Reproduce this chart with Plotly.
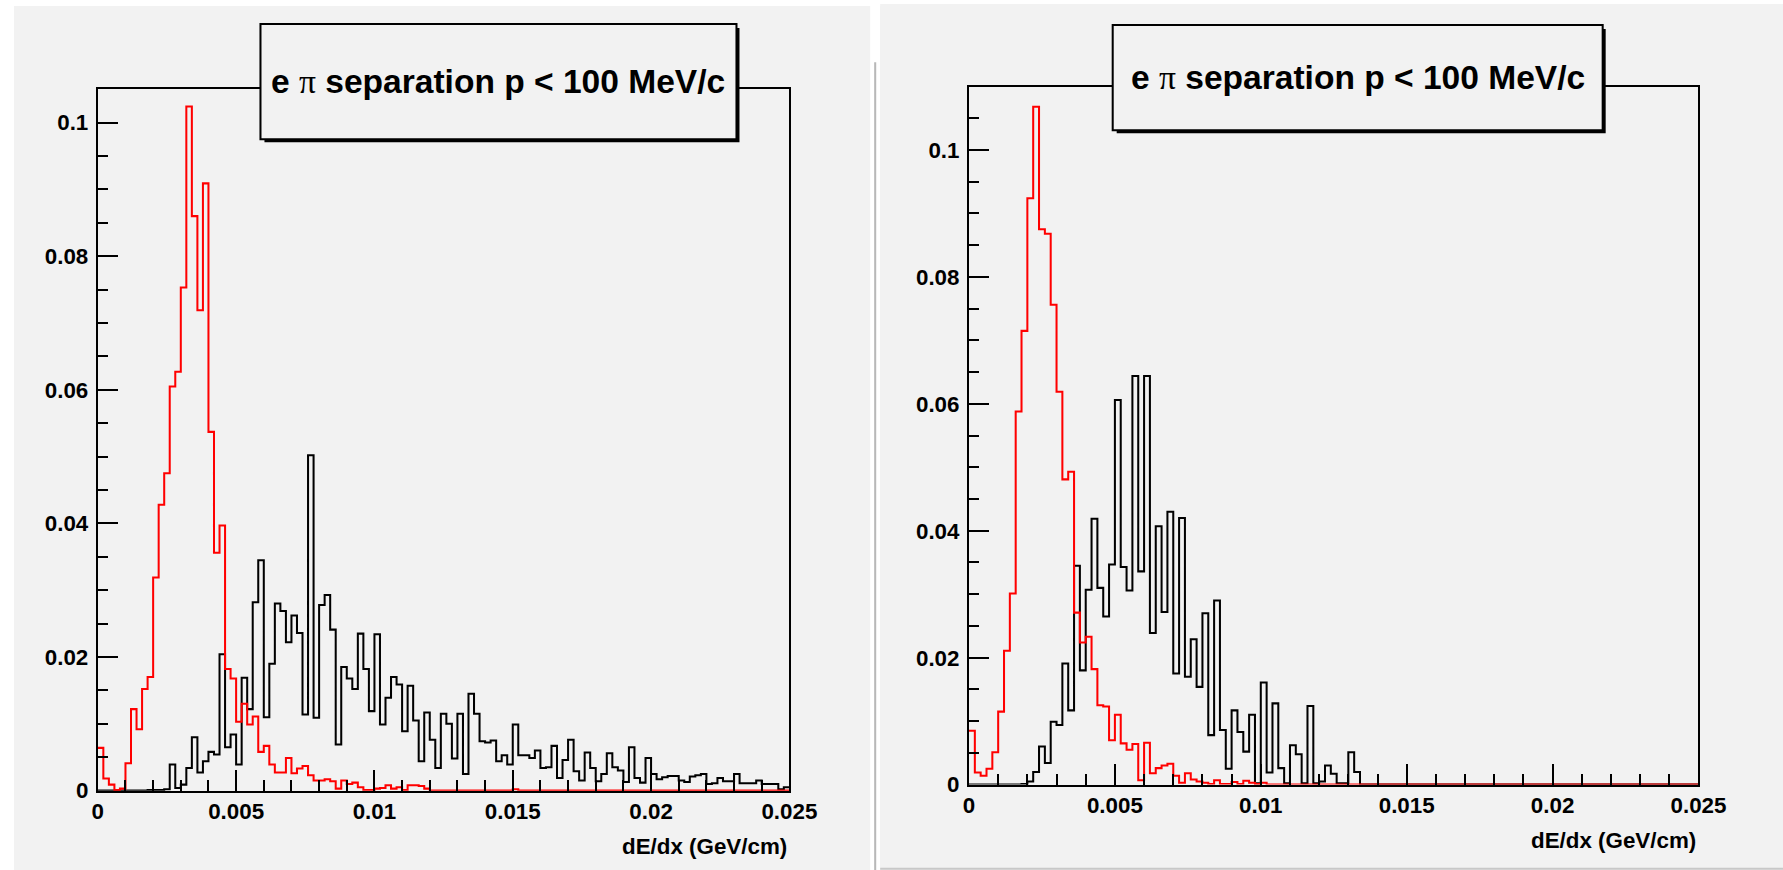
import numpy as np
import plotly.graph_objects as go

# ---------------- data ----------------
bin_width = 0.0002
n_bins = 125

left_electron = [
    0.0064, 0.0018, 0.0009, 0.0001, 0.0003, 0.0041, 0.0122, 0.0092, 0.0152, 0.0170,
    0.0319, 0.0428, 0.0475, 0.0605, 0.0627, 0.0753, 0.1024, 0.0860, 0.0719, 0.0909,
    0.0537, 0.0356, 0.0397, 0.0182, 0.0168, 0.0103, 0.0130, 0.0099, 0.0111, 0.0058,
    0.0067, 0.0039, 0.0027, 0.0027, 0.0049, 0.0026, 0.0033, 0.0037, 0.0023, 0.0015,
    0.0015, 0.0017, 0.0014, 0.0003, 0.0015, 0.0010, 0.0012, 0.0005, 0.0001, 0.0001,
    0.0003, 0.0004, 0.0008, 0.0003, 0.0005, 0.0001, 0.0008, 0.0008, 0.0007, 0.0003,
    0, 0, 0, 0, 0, 0, 0, 0, 0, 0,
    0, 0, 0, 0, 0, 0.0002, 0, 0, 0, 0,
    0, 0, 0, 0, 0, 0, 0, 0, 0, 0,
    0, 0, 0, 0, 0, 0, 0, 0, 0, 0,
    0, 0, 0, 0, 0, 0, 0, 0, 0, 0,
    0, 0, 0, 0, 0, 0, 0, 0, 0, 0,
    0, 0, 0, 0, 0,
]

left_pion = [
    0, 0, 0, 0, 0, 0, 0, 0, 0, 0.0001,
    0.0001, 0.0001, 0.0002, 0.0039, 0.0004, 0.0009, 0.0034, 0.0080, 0.0027, 0.0044,
    0.0058, 0.0054, 0.0204, 0.0065, 0.0084, 0.0039, 0.0169, 0.0122, 0.0282, 0.0345,
    0.0110, 0.0190, 0.0280, 0.0269, 0.0222, 0.0262, 0.0236, 0.0114, 0.0502, 0.0109,
    0.0278, 0.0293, 0.0241, 0.0069, 0.0185, 0.0168, 0.0152, 0.0235, 0.0182, 0.0119,
    0.0234, 0.0099, 0.0139, 0.0170, 0.0159, 0.0089, 0.0157, 0.0105, 0.0044, 0.0117,
    0.0076, 0.0034, 0.0115, 0.0100, 0.0048, 0.0115, 0.0025, 0.0145, 0.0115, 0.0074,
    0.0072, 0.0075, 0.0044, 0.0053, 0.0039, 0.0099, 0.0053, 0.0053, 0.0049, 0.0060,
    0.0034, 0.0035, 0.0067, 0.0019, 0.0046, 0.0076, 0.0029, 0.0015, 0.0057, 0.0034,
    0.0014, 0.0025, 0.0056, 0.0035, 0.0030, 0.0013, 0.0065, 0.0019, 0.0012, 0.0049,
    0.0025, 0.0017, 0.0020, 0.0022, 0.0022, 0.0015, 0.0013, 0.0021, 0.0023, 0.0025,
    0.0010, 0.0011, 0.0019, 0.0014, 0.0014, 0.0025, 0.0011, 0.0011, 0.0011, 0.0015,
    0.0010, 0.0010, 0.0010, 0.0002, 0.0005,
]

right_electron = [
    0.0085, 0.0019, 0.0014, 0.0025, 0.0051, 0.0115, 0.0211, 0.0301, 0.0588, 0.0715,
    0.0924, 0.1068, 0.0875, 0.0868, 0.0756, 0.0619, 0.0481, 0.0493, 0.0271, 0.0224,
    0.0233, 0.0182, 0.0125, 0.0123, 0.0070, 0.0110, 0.0065, 0.0055, 0.0064, 0.0007,
    0.0066, 0.0018, 0.0026, 0.0030, 0.0033, 0.0014, 0.0003, 0.0018, 0.0008, 0.0005,
    0.0003, 0.0001, 0.0007, 0.0001, 0.0001, 0.0004, 0.0001, 0.0006, 0.0003, 0.0001,
    0.0003, 0, 0, 0, 0, 0, 0, 0, 0, 0,
    0, 0, 0, 0, 0, 0, 0, 0, 0, 0,
    0, 0, 0, 0, 0, 0, 0, 0, 0, 0,
    0, 0, 0, 0, 0, 0, 0, 0, 0, 0,
    0, 0, 0, 0, 0, 0, 0, 0, 0, 0,
    0, 0, 0, 0, 0, 0, 0, 0, 0, 0,
    0, 0, 0, 0, 0, 0, 0, 0, 0, 0,
    0, 0, 0, 0, 0,
]

right_pion = [
    0, 0, 0, 0, 0, 0, 0, 0, 0, 0.0001,
    0.0005, 0.0020, 0.0060, 0.0034, 0.0099, 0.0094, 0.0191, 0.0117, 0.0345, 0.0180,
    0.0307, 0.0419, 0.0310, 0.0265, 0.0347, 0.0606, 0.0343, 0.0306, 0.0644, 0.0336,
    0.0644, 0.0239, 0.0407, 0.0272, 0.0430, 0.0175, 0.0420, 0.0170, 0.0229, 0.0154,
    0.0270, 0.0078, 0.0290, 0.0086, 0.0025, 0.0117, 0.0083, 0.0052, 0.0110, 0.0002,
    0.0161, 0.0019, 0.0128, 0.0026, 0.0002, 0.0062, 0.0048, 0.0002, 0.0124, 0.0002,
    0.0005, 0.0030, 0.0017, 0.0002, 0.0002, 0.0051, 0.0020, 0, 0, 0,
    0, 0, 0, 0, 0, 0, 0, 0, 0, 0,
    0, 0, 0, 0, 0, 0, 0, 0, 0, 0,
    0, 0, 0, 0, 0, 0, 0, 0, 0, 0,
    0, 0, 0, 0, 0, 0, 0, 0, 0, 0,
    0, 0, 0, 0, 0, 0, 0, 0, 0, 0,
    0, 0, 0, 0, 0,
]

x_tick_vals = [0, 0.005, 0.01, 0.015, 0.02, 0.025]
x_tick_text = ["0", "0.005", "0.01", "0.015", "0.02", "0.025"]
y_tick_vals = [0, 0.02, 0.04, 0.06, 0.08, 0.1]
y_tick_text = ["0", "0.02", "0.04", "0.06", "0.08", "0.1"]
title_text = ("e <span style='font-family:Liberation Serif;font-weight:normal'>\u03c0</span>"
              " separation p &lt; 100 MeV/c")
x_title = "dE/dx (GeV/cm)"

# ---------------- layout helpers ----------------
# the page photograph comes out slightly reduced, so the design (in target
# pixels, 1783x870) is drawn on a slightly larger canvas
S = 1.017
W0, H0 = 1783, 870
W, H = round(W0 * S), round(H0 * S)
GRAY = "#f2f2f2"
FONT = "Liberation Sans, Arial, sans-serif"


def px(x):
    return x * S / W


def py(y):
    return 1 - y * S / H


def sz(v):
    return v * S


edges = np.arange(n_bins + 1) * bin_width

fig = go.Figure()


def add_hist(vals, color, xa, ya):
    yv = list(vals) + [vals[-1]]
    fig.add_trace(go.Scatter(
        x=edges, y=yv, mode="lines",
        line=dict(color=color, width=sz(2), shape="hv"),
        xaxis=xa, yaxis=ya, hoverinfo="skip", showlegend=False,
    ))


add_hist(left_pion, "black", "x", "y")
add_hist(left_electron, "#ff0000", "x", "y")
add_hist(right_pion, "black", "x2", "y2")
add_hist(right_electron, "#ff0000", "x2", "y2")

panels = [
    dict(l=92, r=785, t=89, b=789, ymax=0.105, box=(255, 24, 732, 139)),
    dict(l=965, r=1696, t=87, b=783, ymax=0.1099, box=(1109, 25, 1600, 130)),
]

axis_common = dict(
    showline=True, linecolor="black", linewidth=sz(2), mirror=True,
    showgrid=False, zeroline=False, ticks="inside", tickcolor="black",
    tickwidth=sz(2), ticklen=sz(20),
    tickfont=dict(family=FONT, size=sz(22), color="black", weight="bold"),
)

layout_axes = {}
shapes = []
annotations = []

shapes.append(dict(type="rect", xref="paper", yref="paper", layer="below",
                   x0=px(8), x1=1, y0=0, y1=py(6),
                   fillcolor=GRAY, line=dict(width=0)))
shapes.append(dict(type="rect", xref="paper", yref="paper", layer="below",
                   x0=px(866), x1=px(876), y0=0, y1=1,
                   fillcolor="white", line=dict(width=0)))
shapes.append(dict(type="rect", xref="paper", yref="paper", layer="below",
                   x0=px(876), x1=1, y0=py(866), y1=py(4),
                   fillcolor=GRAY, line=dict(width=0)))
shapes.append(dict(type="line", xref="paper", yref="paper", layer="below",
                   x0=px(871), x1=px(871), y0=0, y1=py(62),
                   line=dict(color="#b8b8b8", width=sz(2))))
shapes.append(dict(type="line", xref="paper", yref="paper", layer="below",
                   x0=px(876), x1=1, y0=py(867), y1=py(867),
                   line=dict(color="#c8c8c8", width=sz(2))))

for i, p in enumerate(panels):
    sfx = "" if i == 0 else str(i + 1)
    xa = dict(axis_common)
    xa.update(domain=[px(p["l"]), px(p["r"])], range=[0, 0.025],
              tickvals=x_tick_vals, ticktext=x_tick_text,
              anchor="y" + sfx,
              minor=dict(ticks="inside", ticklen=sz(10), tickwidth=sz(2),
                         tickcolor="black", dtick=0.001, tick0=0, showgrid=False))
    ya = dict(axis_common)
    ya.update(domain=[py(p["b"]), py(p["t"])], range=[0, p["ymax"]],
              tickvals=y_tick_vals, ticktext=y_tick_text,
              anchor="x" + sfx, ticklabelstandoff=3,
              minor=dict(ticks="inside", ticklen=sz(10), tickwidth=sz(2),
                         tickcolor="black", dtick=0.005, tick0=0, showgrid=False))
    layout_axes["xaxis" + sfx] = xa
    layout_axes["yaxis" + sfx] = ya

    bx0, by0, bx1, by1 = p["box"]
    shapes.append(dict(type="rect", xref="paper", yref="paper", layer="above",
                       x0=px(bx0 + 4), x1=px(bx1 + 3), y0=py(by1 + 3), y1=py(by0 + 4),
                       fillcolor="black", line=dict(width=0)))
    shapes.append(dict(type="rect", xref="paper", yref="paper", layer="above",
                       x0=px(bx0), x1=px(bx1), y0=py(by1), y1=py(by0),
                       fillcolor=GRAY, line=dict(color="black", width=sz(2))))
    annotations.append(dict(
        text=title_text, xref="paper", yref="paper",
        x=px((bx0 + bx1) / 2), y=py((by0 + by1) / 2),
        xanchor="center", yanchor="middle", showarrow=False,
        font=dict(family=FONT, size=sz(33), color="black", weight="bold"),
    ))
    annotations.append(dict(
        text=x_title, xref="paper", yref="paper",
        x=px(p["r"]), y=py(p["b"] + 56),
        xanchor="right", yanchor="middle", showarrow=False,
        font=dict(family=FONT, size=sz(22), color="black", weight="bold"),
    ))

fig.update_layout(
    width=W, height=H, autosize=False,
    margin=dict(l=0, r=0, t=0, b=0),
    paper_bgcolor="white", plot_bgcolor=GRAY,
    shapes=shapes, annotations=annotations,
    **layout_axes,
)

fig.write_html(
    "out.html",
    config={"displayModeBar": False, "responsive": False},
    post_script=("document.body.style.margin='0';"
                 "document.body.style.overflow='hidden';"
                 "document.documentElement.style.overflow='hidden';"),
)
